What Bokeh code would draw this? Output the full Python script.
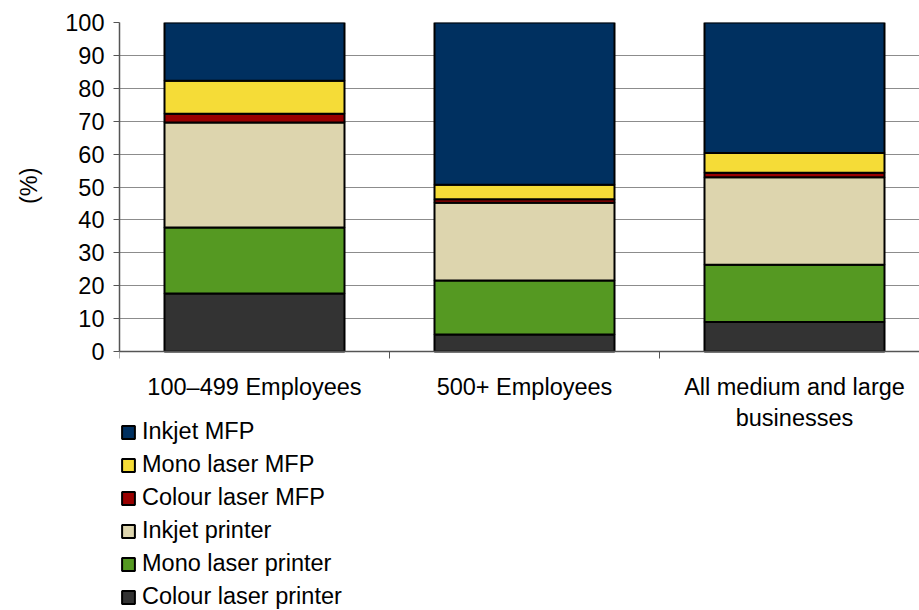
import numpy as np
from bokeh.plotting import figure
from bokeh.models import Range1d, FixedTicker, Legend, LegendItem, Title
from bokeh.embed import file_html
from bokeh.resources import INLINE

# ---- data ----
categories = ["100–499 Employees", "500+ Employees", "All medium and large\nbusinesses"]
series = ["Colour laser printer", "Mono laser printer", "Inkjet printer",
          "Colour laser MFP", "Mono laser MFP", "Inkjet MFP"]
colour_laser_printer = [17.6, 5.2, 9.0]
mono_laser_printer = [20.1, 16.4, 17.4]
inkjet_printer = [31.9, 23.6, 26.6]
colour_laser_mfp = [2.7, 1.1, 1.3]
mono_laser_mfp = [10.0, 4.4, 6.0]
inkjet_mfp = [17.7, 49.3, 39.7]
y_ticks = [0, 10, 20, 30, 40, 50, 60, 70, 80, 90, 100]
y_title = "(%)"

colors = ["#333333", "#559922", "#DDD5AE", "#990000", "#F5DC37", "#003060"]
FONT = "Liberation Sans"
FS = "23.5px"

# layout (pixels): plot area 329 px tall for 0..100, 259 px of room below for labels + legend
PLOT_H, BELOW_H = 329, 259
y_start = -100 * BELOW_H / PLOT_H

x = list(np.arange(len(categories)) + 0.5)
data = {"x": x}
for name, vals in zip(series, [colour_laser_printer, mono_laser_printer, inkjet_printer,
                               colour_laser_mfp, mono_laser_mfp, inkjet_mfp]):
    data[name] = vals

p = figure(width=919, height=610, output_backend="svg", toolbar_location=None,
           x_range=Range1d(0, 800 / 270), y_range=Range1d(y_start, 100),
           min_border_left=119, min_border_right=0, min_border_top=22,
           min_border_bottom=0, outline_line_color=None)

renderers = p.vbar_stack(series, x="x", width=180 / 270, source=data, color=colors,
                         line_color="black", line_width=2)

# y axis
p.yaxis.ticker = FixedTicker(ticks=y_ticks)
p.yaxis.bounds = (y_ticks[0], y_ticks[-1])
p.ygrid.ticker = FixedTicker(ticks=y_ticks)
p.ygrid.grid_line_color = "#8c8c8c"
p.ygrid.grid_line_width = 1
p.xgrid.visible = False
p.yaxis.major_tick_out = 6
p.yaxis.major_tick_in = 0
p.yaxis.minor_tick_out = 0
p.yaxis.minor_tick_in = 0
p.yaxis.major_label_standoff = 9
p.yaxis.major_label_text_font = FONT
p.yaxis.major_label_text_font_size = FS
p.yaxis.major_label_text_color = "black"
p.yaxis.axis_line_color = "#555555"
p.yaxis.axis_line_width = 1.5
p.yaxis.major_tick_line_color = "#555555"

# small blank spacer between the tick labels and the y axis title
p.add_layout(Title(text=".", text_font_size="1px", text_color="white",
                   standoff=15), "left")
# y axis title, placed near the middle of the 0..100 part of the axis
p.add_layout(Title(text=y_title, align="right", offset=145,
                   standoff=5, text_font=FONT, text_font_size=FS,
                   text_font_style="normal", text_color="black"), "left")

# x axis, pinned at y = 0
p.xaxis.fixed_location = 0
p.xaxis.ticker = FixedTicker(ticks=x, minor_ticks=list(range(len(categories) + 1)))
p.xaxis.major_label_overrides = {xv: c for xv, c in zip(x, categories)}
p.xaxis.major_tick_out = 0
p.xaxis.major_tick_in = 0
p.xaxis.minor_tick_out = 7
p.xaxis.minor_tick_in = 0
p.xaxis.minor_tick_line_color = "#555555"
p.xaxis.axis_line_color = "#555555"
p.xaxis.axis_line_width = 1.5
p.xaxis.major_label_standoff = 15
p.xaxis.major_label_text_font = FONT
p.xaxis.major_label_text_font_size = FS
p.xaxis.major_label_text_color = "black"

# legend
items = [LegendItem(label=s, renderers=[r]) for s, r in reversed(list(zip(series, renderers)))]
legend = Legend(items=items, location=(1, 0), orientation="vertical",
                glyph_width=16, glyph_height=16, label_standoff=6, spacing=6,
                padding=0, margin=0, border_line_alpha=0, background_fill_alpha=0,
                label_text_font=FONT, label_text_font_size=FS, label_text_color="black")
p.add_layout(legend)

open("out.html", "w").write(file_html(p, INLINE))
